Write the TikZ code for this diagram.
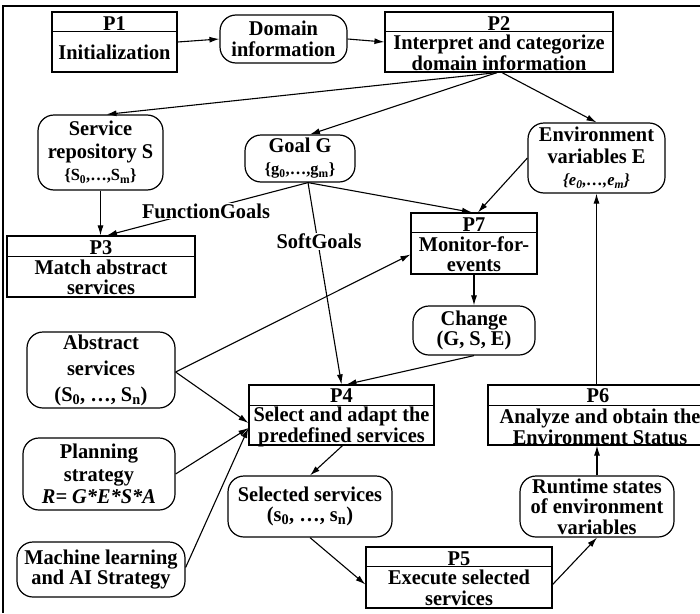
\documentclass[tikz,border=0pt]{standalone}
\usepackage{fontspec}
\setmainfont{Liberation Serif}[FakeStretch=0.97]
\usetikzlibrary{arrows.meta}
\tikzset{
  txt/.style={font=\fontsize{21}{20.5}\selectfont\bfseries, align=center, inner sep=0pt},
  ttl/.style={txt, anchor=base, text depth=0pt},
  lead/.style={font=\fontsize{21}{#1}\selectfont\bfseries},
  procbox/.style={draw, line width=1.2pt, inner sep=0pt},
  rbox/.style={draw, line width=1.2pt, rounded corners=16pt, inner sep=0pt, txt},
  arr/.style={line width=1.1pt, -{Latex[length=10pt,width=6pt]}},
  lbl/.style={txt, fill=white, inner sep=1pt},
}
\newcommand{\sml}{\fontsize{17}{17}\selectfont}
\begin{document}
\begin{tikzpicture}[x=1pt,y=-1pt]
\clip (0,0) rectangle (700,613);
\fill[white] (0,0) rectangle (700,613);
\draw[line width=2.5pt] (700,6) -- (3,6) -- (3,613);

% process boxes
\node[procbox, minimum width=125pt, minimum height=60pt] (p1) at (114.5,42) {};
\draw[line width=1.2pt] ([yshift=-20pt]p1.north west) -- ([yshift=-20pt]p1.north east);
\node[ttl] (p1t) at (114.5,30) {P1};
\node[txt] (p1b) at (114.5,52) {Initialization};

\node[procbox, minimum width=228pt, minimum height=60pt] (p2) at (499,42) {};
\draw[line width=1.2pt] ([yshift=-20pt]p2.north west) -- ([yshift=-20pt]p2.north east);
\node[ttl] (p2t) at (499,30) {P2};
\node[txt] (p2b) at (499,53) {Interpret and categorize\\domain information};

\node[procbox, minimum width=188pt, minimum height=61pt] (p3) at (101,266.5) {};
\draw[line width=1.2pt] ([yshift=-21pt]p3.north west) -- ([yshift=-21pt]p3.north east);
\node[ttl] (p3t) at (101,254.5) {P3};
\node[txt] (p3b) at (101,277.5) {Match abstract\\services};

\node[procbox, minimum width=126pt, minimum height=61pt] (p7) at (474,243.5) {};
\draw[line width=1.2pt] ([yshift=-20pt]p7.north west) -- ([yshift=-20pt]p7.north east);
\node[ttl] (p7t) at (474,231) {P7};
\node[txt] (p7b) at (474,254) {Monitor-for-\\events};

\node[procbox, minimum width=185pt, minimum height=60pt] (p4) at (341.5,415) {};
\draw[line width=1.2pt] ([yshift=-21pt]p4.north west) -- ([yshift=-21pt]p4.north east);
\node[ttl] (p4t) at (341.5,402) {P4};
\node[txt] (p4b) at (341.5,427) {Select and adapt the\\predefined services};

\node[procbox, minimum width=224pt, minimum height=60pt] (p6) at (600,415) {};
\draw[line width=1.2pt] ([yshift=-21pt]p6.north west) -- ([yshift=-21pt]p6.north east);
\node[ttl] (p6t) at (598,402) {P6};
\node[txt] (p6b) at (600,427) {Analyze and obtain the\\Environment Status};

\node[procbox, minimum width=186pt, minimum height=61pt] (p5) at (459,577.5) {};
\draw[line width=1.2pt] ([yshift=-20pt]p5.north west) -- ([yshift=-20pt]p5.north east);
\node[ttl] (p5t) at (459,565) {P5};
\node[txt] (p5b) at (459,588) {Execute selected\\services};

% rounded boxes
\node[rbox, minimum width=127pt, minimum height=48pt] (dom) at (283.5,39) {Domain\\information};
\node[rbox, minimum width=125pt, minimum height=75pt, lead=22.5] (repo) at (100.5,152.5)
  {Service\\repository S\\{\sml\{S\textsubscript{0},\ldots,S\textsubscript{m}\}}};
\node[rbox, minimum width=110pt, minimum height=47pt, lead=22] (goal) at (300,158.5)
  {Goal G\\{\sml\{g\textsubscript{0},\ldots,g\textsubscript{m}\}}};
\node[rbox, minimum width=137pt, minimum height=70pt, lead=22] (env) at (596.5,158)
  {Environment\\variables E\\{\sml\itshape\{e\textsubscript{0},\ldots,e\textsubscript{m}\}}};
\node[rbox, minimum width=122pt, minimum height=49pt] (chg) at (474,330.5) {Change\\(G, S, E)};
\node[rbox, minimum width=148pt, minimum height=76pt, lead=26] (abs) at (101,370)
  {Abstract\\services\\(S\textsubscript{0}, \ldots, S\textsubscript{n})};
\node[rbox, minimum width=152pt, minimum height=72pt, lead=22.5] (plan) at (99,474)
  {Planning\\strategy\\\textit{R= G*E*S*A}};
\node[rbox, minimum width=168pt, minimum height=55pt, lead=18.5] (ml) at (101,569.5)
  {Machine learning\\and AI Strategy};
\node[rbox, minimum width=164pt, minimum height=61pt] (sel) at (310,506.5)
  {Selected services\\(s\textsubscript{0}, \ldots, s\textsubscript{n})};
\node[rbox, minimum width=154pt, minimum height=61pt] (rt) at (597,506.5)
  {Runtime states\\of environment\\variables};

% connectors
\draw[arr] (p1.east) -- (dom.west);
\draw[arr] (dom.east) -- (p1.east -| p2.west);
\draw[arr] ([xshift=-2pt]p2.south) -- ([xshift=6pt]repo.north);
\draw[arr] ([xshift=-2pt]p2.south) -- ([xshift=10pt]goal.north);
\draw[arr] ([xshift=3pt]p2.south) -- (env.north);
\draw[arr] (repo.south) -- (repo.south |- p3.north);
\draw[arr] ([xshift=8pt]goal.south) -- ([xshift=6pt]p3.north);
\draw[arr] ([xshift=8pt]goal.south) -- (p4.north);
\draw[arr] ([xshift=8pt]goal.south) -- ([xshift=-2pt]p7.north);
\draw[arr] (env.west) -- ([xshift=4pt]p7.north);
\node[lbl] (fg) at (206,211) {FunctionGoals};
\node[lbl] (sg) at (319,241) {SoftGoals};
\draw[arr] ([yshift=-2pt]abs.east) -- ([yshift=-11pt]p7.west);
\draw[arr] ([yshift=-2pt]abs.east) -- ([yshift=-8pt]p4.west);
\draw[arr] (plan.east) -- ([yshift=-13pt]p4.west);
\draw[arr] ([yshift=2pt]ml.east) -- ([yshift=-13pt]p4.west);
\draw[arr] (p7.south) -- (chg.north);
\draw[arr] (chg.south) -- ([xshift=5pt]p4.north);
\draw[arr] ([xshift=1pt]p4.south) -- (sel.north);
\draw[arr] (sel.south) -- ([yshift=-7pt]p5.west);
\draw[arr] ([yshift=-7pt]p5.east) -- (rt.south);
\draw[arr] (rt.north) -- (rt.north |- p6.south);
\draw[arr] (env.south |- p6.north) -- (env.south);
\end{tikzpicture}
\end{document}
